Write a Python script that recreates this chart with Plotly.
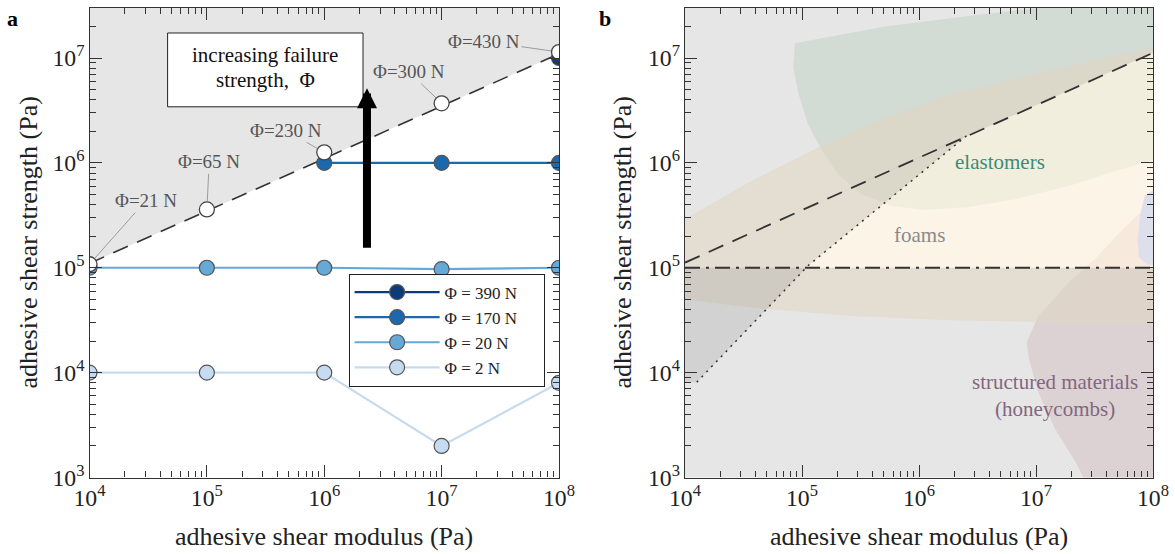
import math
import plotly.graph_objects as go

# ---------------- Panel a data ----------------
G = [1e4, 1e5, 1e6, 1e7, 1e8]
tau_phi2 = [1e4, 1e4, 1e4, 2e3, 8e3]
tau_phi20 = [1e5, 1e5, 1e5, 0.97e5, 1e5]
G_phi170 = [1e6, 1e7, 1e8]
tau_phi170 = [1e6, 1e6, 1e6]
G_phi390 = [1e8]
tau_phi390 = [1e7]
series_names = ["Φ = 390 N", "Φ = 170 N", "Φ = 20 N", "Φ = 2 N"]

fail_G = [1e4, 1e5, 1e6, 1e7, 1e8]
fail_tau = [1.08e5, 3.6e5, 1.26e6, 3.7e6, 1.14e7]
fail_labels = ["Φ=21 N", "Φ=65 N", "Φ=230 N", "Φ=300 N", "Φ=430 N"]

limit_G = [1e4, 1e8]
limit_tau = [1.1e5, 1.1e7]

# ---------------- Panel b data ----------------
b_limit_G = [1e4, 1e8]
b_limit_tau = [1.12e5, 1.12e7]
dotted_G = [1.26e4, 1.13e5, 2.56e6]
dotted_tau = [8.1e3, 1.05e5, 1.82e6]
dashdot_G = [1e4, 1e8]
dashdot_tau = [1e5, 1e5]

# material property regions (log10 G, log10 tau)
foam_logG = [4.0, 4.57, 5.14, 5.71, 6.28, 6.85, 7.42, 8.05, 8.05, 7.13, 6.28, 5.42, 4.57, 4.0]
foam_logT = [5.465, 5.83, 6.15, 6.43, 6.66, 6.81, 6.96, 7.11, 4.46, 4.48, 4.50, 4.54, 4.62, 4.70]
elast_logG = [4.94, 5.71, 6.56, 7.2, 8.05, 8.05, 7.70, 7.28, 6.85, 6.42, 6.05, 5.77, 5.51, 5.31, 5.17, 5.05, 4.97, 4.926]
elast_logT = [7.14, 7.30, 7.42, 7.50, 7.55, 6.04, 5.93, 5.78, 5.66, 5.58, 5.55, 5.59, 5.70, 5.89, 6.12, 6.37, 6.66, 6.91]
struct_logG = [8.05, 7.875, 7.70, 7.52, 7.28, 7.02, 6.92, 6.94, 7.02, 7.165, 7.34, 7.45, 8.05]
struct_logT = [5.61, 5.51, 5.32, 5.10, 4.86, 4.54, 4.29, 4.13, 3.81, 3.46, 3.145, 2.9, 2.9]
other_logG = [8.05, 7.93, 7.89, 7.87, 7.88, 7.95, 8.05]
other_logT = [5.77, 5.69, 5.51, 5.26, 5.10, 5.03, 5.02]

TOP = 1e8
BOTTOM = 5e2

SERIF = "Liberation Serif"
AX = "#333333"
SHADE = "rgba(128,128,128,0.2)"
NB = "\u00a0" * 5

fig = go.Figure()

# ---------- panel a ----------
fig.add_trace(go.Scatter(
    x=[limit_G[0], limit_G[1], limit_G[1], limit_G[0]],
    y=[limit_tau[0], limit_tau[1], TOP, TOP],
    fill="toself", fillcolor=SHADE, line=dict(width=0), mode="lines",
    hoverinfo="skip", showlegend=False, xaxis="x", yaxis="y"))

fig.add_trace(go.Scatter(
    x=limit_G, y=limit_tau, mode="lines",
    line=dict(color="#333333", width=1.6, dash="16px,10px"),
    showlegend=False, xaxis="x", yaxis="y"))

mk_line = dict(color="#555555", width=1.2)
series = [
    (G_phi390, tau_phi390, "#0c3b7a"),
    (G_phi170, tau_phi170, "#1c68ac"),
    (G, tau_phi20, "#66a8d6"),
    (G, tau_phi2, "#c6dbef"),
]
for (xs, ys, col), name in zip(series, series_names):
    fig.add_trace(go.Scatter(
        x=xs, y=ys, mode="lines+markers", name=name + NB,
        line=dict(color=col, width=2.2),
        marker=dict(size=15, color=col, line=mk_line),
        xaxis="x", yaxis="y"))

fig.add_trace(go.Scatter(
    x=fail_G, y=fail_tau, mode="markers",
    marker=dict(size=15, color="white", line=dict(color="#444444", width=1.3)),
    showlegend=False, xaxis="x", yaxis="y"))

# ---------- panel b ----------
def poly(lx, ly, color):
    fig.add_trace(go.Scatter(
        x=[10 ** v for v in lx], y=[10 ** v for v in ly],
        fill="toself", fillcolor=color, line=dict(width=0), mode="lines",
        hoverinfo="skip", showlegend=False, xaxis="x2", yaxis="y2"))

poly(elast_logG, elast_logT, "rgb(232,242,234)")
poly(struct_logG, struct_logT, "rgb(243,230,233)")
poly(foam_logG, foam_logT, "rgba(249,235,209,0.55)")
poly(other_logG, other_logT, "rgb(222,223,236)")

# gray overlays outside the feasible window
fig.add_trace(go.Scatter(
    x=[b_limit_G[0], b_limit_G[1], b_limit_G[1], b_limit_G[0]],
    y=[b_limit_tau[0], b_limit_tau[1], TOP, TOP],
    fill="toself", fillcolor=SHADE, line=dict(width=0), mode="lines",
    hoverinfo="skip", showlegend=False, xaxis="x2", yaxis="y2"))
fig.add_trace(go.Scatter(
    x=[dashdot_G[0], dashdot_G[1], dashdot_G[1], dashdot_G[0]],
    y=[dashdot_tau[0], dashdot_tau[1], BOTTOM, BOTTOM],
    fill="toself", fillcolor=SHADE, line=dict(width=0), mode="lines",
    hoverinfo="skip", showlegend=False, xaxis="x2", yaxis="y2"))
fig.add_trace(go.Scatter(
    x=[b_limit_G[0]] + dotted_G + [b_limit_G[0]],
    y=[dotted_tau[0]] + dotted_tau + [b_limit_tau[0]],
    fill="toself", fillcolor=SHADE, line=dict(width=0), mode="lines",
    hoverinfo="skip", showlegend=False, xaxis="x2", yaxis="y2"))

fig.add_trace(go.Scatter(
    x=b_limit_G, y=b_limit_tau, mode="lines",
    line=dict(color="#333333", width=1.8, dash="16px,10px"),
    showlegend=False, xaxis="x2", yaxis="y2"))
fig.add_trace(go.Scatter(
    x=dashdot_G, y=dashdot_tau, mode="lines",
    line=dict(color="#333333", width=1.8, dash="15px,6px,3px,6px"),
    showlegend=False, xaxis="x2", yaxis="y2"))
fig.add_trace(go.Scatter(
    x=dotted_G, y=dotted_tau, mode="lines",
    line=dict(color="#333333", width=1.5, dash="2px,5px"),
    showlegend=False, xaxis="x2", yaxis="y2"))

# ---------- axes ----------
def axis(domain, rng, anchor):
    return dict(
        type="log", range=rng, domain=domain, anchor=anchor,
        dtick=1, exponentformat="power", showexponent="all",
        showgrid=False, zeroline=False, automargin=False,
        showline=True, linecolor=AX, linewidth=1.3, mirror="allticks",
        ticks="inside", ticklen=12, tickwidth=1.2, tickcolor=AX,
        minor=dict(ticks="inside", ticklen=6, tickwidth=1, tickcolor=AX, dtick="D1", showgrid=False),
        tickfont=dict(family=SERIF, size=19, color="#222222"),
    )

YDOM = [1 - 477.5 / 554, 1 - 8 / 554]
fig.update_layout(
    width=1175, height=554,
    margin=dict(l=0, r=0, t=0, b=0, autoexpand=False),
    paper_bgcolor="white", plot_bgcolor="white",
    font=dict(family=SERIF, color="#222222"),
    xaxis=axis([89.5 / 1175, 559 / 1175], [4, 8], "y"),
    yaxis=axis(YDOM, [3, 7.477], "x"),
    xaxis2=axis([685 / 1175, 1153 / 1175], [4, 8], "y2"),
    yaxis2=axis(YDOM, [3, 7.477], "x2"),
    legend=dict(
        x=348.6 / 1175, y=1 - 273.5 / 554, xanchor="left", yanchor="top",
        bgcolor="white", bordercolor="#222222", borderwidth=1,
        font=dict(family=SERIF, size=17, color="#222222"),
        itemwidth=85, tracegroupgap=0,
    ),
    shapes=[dict(type="rect", xref="paper", yref="paper",
                 x0=167.6 / 1175, x1=363 / 1175, y0=1 - 106.8 / 554, y1=1 - 33 / 554,
                 fillcolor="white", line=dict(color="#222222", width=1), layer="above")],
)

ann = []
# axis titles
for xc in (324 / 1175, 919 / 1175):
    ann.append(dict(text="adhesive shear modulus (Pa)", xref="paper", yref="paper",
                    x=xc, y=1 - 536 / 554, xanchor="center", yanchor="middle", showarrow=False,
                    font=dict(family=SERIF, size=26, color="#222222")))
for xc in (28 / 1175, 622 / 1175):
    ann.append(dict(text="adhesive shear strength (Pa)", xref="paper", yref="paper",
                    x=xc, y=1 - 242.5 / 554, xanchor="center", yanchor="middle",
                    showarrow=False, textangle=-90,
                    font=dict(family=SERIF, size=26, color="#222222")))
# panel letters
ann.append(dict(text="<b>a</b>", xref="paper", yref="paper", x=12 / 1175, y=1 - 18 / 554,
                xanchor="center", yanchor="middle",
                showarrow=False, font=dict(family=SERIF, size=22, color="black")))
ann.append(dict(text="<b>b</b>", xref="paper", yref="paper", x=605 / 1175, y=1 - 18 / 554,
                xanchor="center", yanchor="middle",
                showarrow=False, font=dict(family=SERIF, size=22, color="black")))

# failure labels with leader lines (label positions in log coords)
label_pos = [(4.48, 5.64), (5.02, 6.01), (5.67, 6.31), (6.72, 6.87), (7.36, 7.16)]
for gx, ty, lab, (lx, ly) in zip(fail_G, fail_tau, fail_labels, label_pos):
    ann.append(dict(text=lab, xref="x", yref="y", x=math.log10(gx), y=math.log10(ty),
                    axref="x", ayref="y", ax=lx, ay=ly, showarrow=True, arrowhead=0,
                    arrowwidth=0.8, arrowcolor="#888888", standoff=8,
                    font=dict(family=SERIF, size=19, color="#555555")))

# text in box (two lines) and arrow
ann.append(dict(text="increasing failure", xref="paper", yref="paper",
                x=265.3 / 1175, y=1 - 55.3 / 554, xanchor="center", yanchor="middle",
                showarrow=False, font=dict(family=SERIF, size=21, color="#111111")))
ann.append(dict(text="strength,  Φ", xref="paper", yref="paper",
                x=265.3 / 1175, y=1 - 80.4 / 554, xanchor="center", yanchor="middle",
                showarrow=False, font=dict(family=SERIF, size=21, color="#111111")))
ann.append(dict(text="", xref="x", yref="y", x=6.364, y=6.712, axref="x", ayref="y",
                ax=6.364, ay=5.177, showarrow=True, arrowhead=2, arrowsize=0.5,
                arrowwidth=8, arrowcolor="black"))

# panel b region labels
ann.append(dict(text="elastomers", xref="x2", yref="y2", x=6.69, y=6.005, showarrow=False,
                font=dict(family=SERIF, size=21, color="#3d8a76")))
ann.append(dict(text="foams", xref="x2", yref="y2", x=6.0, y=5.31, showarrow=False,
                font=dict(family=SERIF, size=21, color="#8a8a8a")))
ann.append(dict(text="structured materials<br>(honeycombs)", xref="x2", yref="y2",
                x=7.16, y=3.785, showarrow=False,
                font=dict(family=SERIF, size=21, color="#84657f")))

fig.update_layout(annotations=ann)

fig.write_html("out.html", config={"displayModeBar": False},
               post_script="document.body.style.margin='0';document.body.style.overflow='hidden';")
